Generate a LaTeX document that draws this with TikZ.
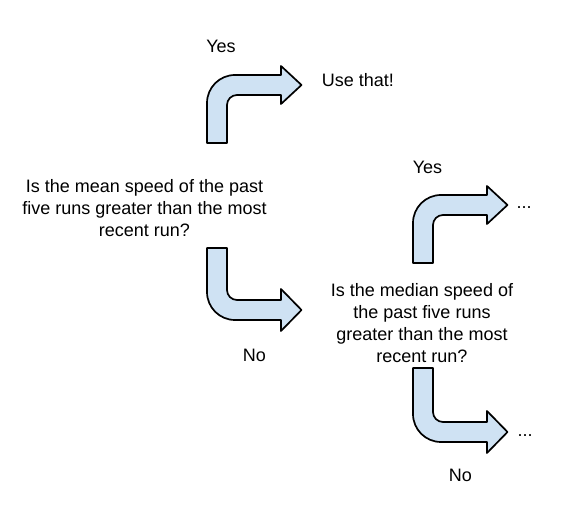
\documentclass[tikz,border=0pt]{standalone}
\usepackage{fontspec}
\setmainfont{Liberation Sans}
\usetikzlibrary{positioning}
\definecolor{turnfill}{RGB}{207,226,243}

\begin{document}
\begin{tikzpicture}[
                    x=1pt, y=1pt,
                font=\fontsize{18}{22}\selectfont,
                bent/.style={draw=black, fill=turnfill, line width=1.7pt, line join=round},
                pics/turn/.style args={#1/#2}{code={
                    \draw[bent] (0,0) -- (0,#1-28) arc[start angle=180,end angle=90,radius=28]
                        -- (74,#1) -- (74,#1-10+#2) -- (94.5,#1-10) -- (74,#1-10-#2)
                        -- (74,#1-20) -- (30,#1-20) arc[start angle=90,end angle=180,radius=10]
                        -- (20,0) -- cycle;}}]

                \useasboundingbox (0,0) rectangle (587,504);

                \draw(144.5,296) node[align=center] (meanq) {Is the mean speed of the past\\five runs greater than the most\\recent run?};
                \draw(422,180.5) node[align=center] (medianq) {Is the median speed of\\the past five runs\\greater than the most\\recent run?};

                \draw(221,458) node (yesA) {Yes};
                \draw(358,424) node (use) {Use that!};
                \draw(254.5,149) node (noA) {No};
                \draw(427.5,337) node (yesB) {Yes};
                \draw(524,296) node (dotsA) {...};
                \draw(460.5,29) node (noB) {No};
                \draw(525,68) node (dotsB) {...};

                \pic at (207,361) {turn=68/19};
                \pic[yscale=-1] at (207,256) {turn=72/21};
                \pic at (413,241) {turn=68/19};
                \pic[yscale=-1] at (413,136) {turn=74/21};

            \end{tikzpicture}
\end{document}
